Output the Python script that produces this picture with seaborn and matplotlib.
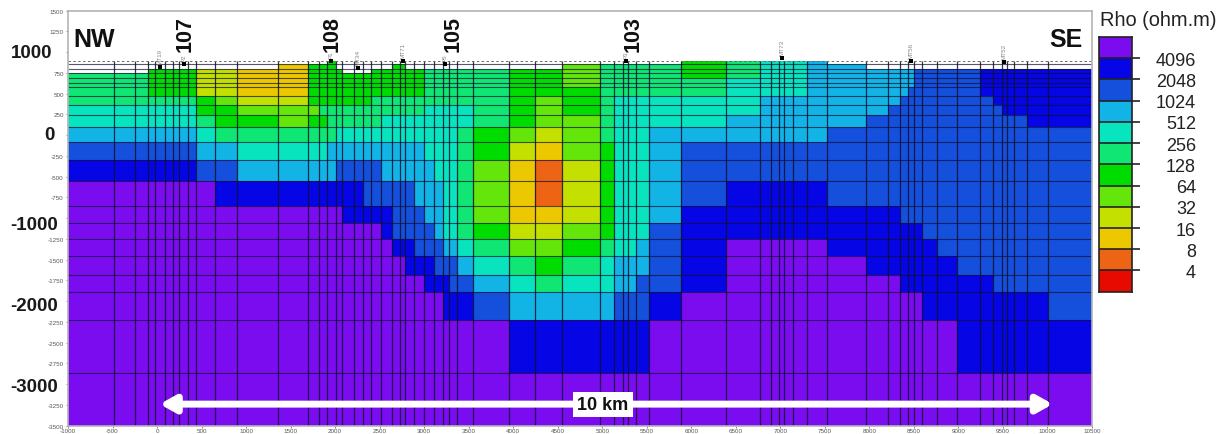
import numpy as np
import pandas as pd
import matplotlib as mpl
import matplotlib.pyplot as plt
import seaborn as sb
from matplotlib.colors import ListedColormap

mpl.use('agg')

# mesh column edges, metres along the profile
x_edges = [-1000, -480, -247, -104, -19, 86, 176, 250, 352, 435, 651, 902, 1362, 1692,
           1823, 1906, 2007, 2081, 2216, 2317, 2403, 2516, 2643, 2729, 2785, 2890, 2999,
           3114, 3209, 3279, 3366, 3552, 3957, 4245, 4545, 4975, 5136, 5237, 5293, 5380,
           5529, 5885, 6390, 6772, 6892, 6989, 7045, 7146, 7303, 7521, 7959, 8206, 8344,
           8438, 8505, 8588, 8757, 8988, 9243, 9386, 9493, 9543, 9628, 9767, 10010, 10500]

# mesh row edges, metres elevation, top down
z_edges = [895, 855, 799, 747, 687, 630, 575, 473, 365, 245, 100, -81, -293, -551, -855,
           -1060, -1245, -1455, -1690, -1895, -2225, -2871, -3500]

# resistivity class per row as (class, until x), 0 is air, 12 is above 4096 ohm.m
rows = [
    [(0, 1906), (6, 2007), (0, 5885), (6, 6390), (7, 6772), (8, 7303), (9, 7521), (0, 10500)],
    [(0, 1362), (3, 1692), (6, 2007), (0, 2643), (6, 2785), (0, 4545), (5, 4975), (7, 5885),
     (6, 6390), (7, 6772), (8, 7303), (9, 7959), (0, 10500)],
    [(0, -104), (6, 435), (4, 902), (3, 1692), (6, 2081), (0, 2403), (6, 2999), (7, 3957),
     (6, 4545), (5, 4975), (7, 5885), (6, 6390), (7, 6772), (8, 7303), (9, 8505), (10, 9243),
     (11, 10500)],
    [(7, -104), (6, 435), (4, 902), (3, 1692), (6, 2999), (7, 3957), (6, 4545), (5, 4975),
     (7, 5885), (6, 6390), (7, 6772), (8, 7303), (9, 8505), (10, 9243), (11, 10500)],
    [(7, -104), (6, 435), (4, 902), (3, 1692), (6, 2999), (7, 3957), (6, 4545), (5, 4975),
     (7, 6390), (8, 7303), (9, 8505), (10, 9243), (11, 10500)],
    [(7, -104), (6, 435), (4, 902), (3, 1692), (6, 2999), (7, 3957), (6, 4545), (5, 4975),
     (7, 6390), (8, 7303), (9, 8505), (10, 9243), (11, 10500)],
    [(7, -104), (6, 435), (4, 902), (3, 1692), (6, 2999), (7, 3957), (6, 4975), (7, 6390),
     (8, 7303), (9, 8438), (10, 9243), (11, 10500)],
    [(7, 435), (6, 651), (5, 902), (4, 1692), (6, 2403), (7, 3957), (6, 4245), (5, 4545),
     (6, 4975), (7, 5136), (8, 6772), (9, 8344), (10, 9386), (11, 10500)],
    [(8, 435), (6, 902), (5, 1823), (7, 2999), (8, 3552), (7, 3957), (6, 4245), (5, 4545),
     (6, 4975), (7, 5136), (8, 6772), (9, 8206), (10, 9493), (11, 10500)],
    [(8, 435), (7, 651), (6, 1362), (5, 1692), (6, 1906), (7, 2516), (8, 3552), (7, 3957),
     (6, 4245), (5, 4975), (7, 5136), (8, 6390), (9, 7959), (10, 9767), (11, 10500)],
    [(9, 435), (8, 651), (7, 2007), (8, 3366), (7, 3552), (6, 3957), (5, 4245), (4, 4545),
     (5, 4975), (7, 5136), (8, 5529), (9, 7521), (10, 10500)],
    [(10, 435), (9, 902), (8, 1906), (9, 2999), (8, 3366), (7, 3552), (6, 3957), (4, 4245),
     (3, 4545), (5, 4975), (6, 5136), (8, 5529), (9, 5885), (10, 10500)],
    [(11, 435), (10, 902), (9, 2007), (10, 2516), (9, 3114), (8, 3366), (7, 3552), (5, 3957),
     (3, 4245), (2, 4545), (4, 4975), (6, 5136), (8, 5529), (9, 5885), (10, 10500)],
    [(12, 651), (11, 2317), (10, 2890), (9, 3209), (8, 3366), (7, 3552), (5, 3957), (3, 4245),
     (2, 4545), (4, 4975), (6, 5136), (8, 5529), (9, 5885), (10, 6390), (11, 7521), (10, 10500)],
    [(12, 2081), (11, 2643), (10, 2999), (9, 3209), (8, 3366), (7, 3552), (5, 3957), (3, 4545),
     (4, 4975), (6, 5136), (8, 5529), (9, 5885), (11, 8344), (10, 10500)],
    [(12, 2516), (11, 2643), (10, 3114), (9, 3209), (8, 3366), (7, 3552), (6, 3957), (4, 4545),
     (5, 4975), (6, 5136), (8, 5529), (10, 5885), (11, 8588), (10, 10500)],
    [(12, 2643), (11, 2890), (10, 3209), (9, 3366), (8, 3552), (7, 3957), (5, 4545), (6, 4975),
     (7, 5136), (8, 5380), (9, 5529), (10, 5885), (11, 6390), (12, 7521), (11, 8757), (10, 10500)],
    [(12, 2785), (11, 3114), (10, 3366), (9, 3552), (8, 3957), (7, 4245), (6, 4545), (7, 4975),
     (8, 5136), (9, 5529), (10, 5885), (11, 6390), (12, 7959), (11, 8988), (10, 10500)],
    [(12, 2999), (11, 3279), (10, 3552), (9, 3957), (8, 4245), (7, 4545), (8, 5136), (9, 5380),
     (10, 5885), (11, 6390), (12, 8344), (11, 9386), (10, 10500)],
    [(12, 3209), (11, 3552), (10, 3957), (9, 5136), (10, 5529), (11, 5885), (12, 8588),
     (11, 10010), (10, 10500)],
    [(12, 3957), (11, 5529), (12, 8988), (11, 10500)],
    [(12, 10500)],
]

# colour scale, top swatch first
scale_colours = ['#7B0CF0', '#0505E6', '#1450DC', '#12B4E6', '#08E4BE', '#10E673',
                 '#00DC00', '#64E60A', '#C4E000', '#ECC800', '#EC6414', '#E60A00']
scale_labels = ['4096', '2048', '1024', '512', '256', '128', '64', '32', '16', '8', '4']

# stations on the surface
station_x = [34, 307, 1954, 2261, 2763, 3235, 5263, 7016, 8465, 9512]
station_z = [819, 855, 890, 813, 895, 855, 890, 927, 890, 880]
station_names = ['MT19', 'P2', 'P1', 'MT34', 'MT71', 'P5', 'P3', 'MT73', 'MT56', 'MT52']

# site numbers written above the profile
site_names = ['107', '108', '105', '103']
site_x = [320, 1970, 3330, 5350]

x_ticks = list(range(-1000, 10501, 500))
z_ticks = list(range(-3500, 1501, 250))
big_z_labels = ['1000', '0', '-1000', '-2000', '-3000']
big_z_pos = [1000, 12, -1070, -2055, -3030]
big_z_right = [-1179, -1146, -1112, -1112, -1112]

FIG_W, FIG_H = 1224, 435


def expand_rows():
    recs = []
    for i, runs in enumerate(rows):
        for j in range(len(x_edges) - 1):
            mid = (x_edges[j] + x_edges[j + 1]) / 2
            cls = next(c for c, stop in runs if mid < stop)
            if cls:
                recs.append({'x': mid, 'z': (z_edges[i] + z_edges[i + 1]) / 2, 'cls': cls})
    return pd.DataFrame(recs)


def main():
    sb.set_theme(style="white")
    plt.rcParams['font.family'] = ['Liberation Sans', 'DejaVu Sans']

    fig = plt.figure(figsize=(FIG_W / 100, FIG_H / 100), dpi=100)
    ax = fig.add_axes([68 / FIG_W, 1 - 426.7 / FIG_H, 1024 / FIG_W, 415 / FIG_H])

    cmap = ListedColormap(scale_colours[::-1])
    sb.histplot(data=expand_rows(), x='x', y='z', weights='cls', bins=(x_edges, z_edges[::-1]),
                cmap=cmap, vmin=0.5, vmax=12.5, cbar=False, ax=ax)

    ax.vlines(x_edges[1:-1], -3500, 895, color='#101030', lw=0.9, alpha=0.85)
    ax.hlines(z_edges[1:-1], -1000, 10500, color='#101030', lw=0.8, alpha=0.7)
    ax.hlines(895, -1000, 10500, color='#666666', lw=0.7, ls=(0, (2.5, 2.5)))

    ax.set_xlim(-1000, 10500)
    ax.set_ylim(-3500, 1500)
    ax.set_xlabel('')
    ax.set_ylabel('')
    ax.set_xticks(x_ticks)
    ax.set_xticklabels([str(v) for v in x_ticks])
    ax.set_yticks(z_ticks)
    ax.set_yticklabels(['' if str(v) in big_z_labels else str(v) for v in z_ticks])
    ax.tick_params(axis='both', labelsize=4.5, colors='#555555', length=1.5, width=0.5, pad=0.5,
                   left=True, bottom=True)
    ax.tick_params(axis='y', pad=1.5)
    for s in ax.spines.values():
        s.set_color('#b4b4b4')
        s.set_linewidth(1.2)

    # stations
    sb.scatterplot(x=station_x, y=station_z, marker='s', s=5, color='black', linewidth=0,
                   ax=ax, zorder=4)
    for name, x, z in zip(station_names, station_x, station_z):
        ax.text(x, z + 35, name, rotation=90, fontsize=4.5, color='#888888', ha='center', va='bottom')

    for name, x in zip(site_names, site_x):
        ax.text(x, 1015, name, rotation=90, fontsize=15.5, fontweight='bold', color='#111111',
                ha='center', va='bottom')

    ax.text(-935, 1165, 'NW', fontsize=18, fontweight='bold', color='#111111', va='center')
    ax.text(10390, 1165, 'SE', fontsize=18, fontweight='bold', color='#111111', va='center', ha='right')

    for label, z, right in zip(big_z_labels, big_z_pos, big_z_right):
        ax.text(right, z, label, fontsize=13.5, fontweight='bold', color='#1a1a1a', ha='right', va='center')

    # 10 km scale arrow
    ax.annotate('', xy=(30, -3240), xytext=(10060, -3240),
                arrowprops=dict(arrowstyle='<|-|>,head_length=0.75,head_width=0.42', color='white',
                                lw=5, shrinkA=0, shrinkB=0))
    ax.text(5009, -3247, '10 km', fontsize=13, fontweight='bold', color='#111111', ha='center',
            va='center', bbox=dict(facecolor='white', edgecolor='none', pad=2.8), zorder=6)

    # colour scale
    cax = fig.add_axes([1099 / FIG_W, 1 - 292.7 / FIG_H, 33 / FIG_W, 254.7 / FIG_H])
    swatches = np.arange(12, 0, -1).reshape(-1, 1)
    sb.heatmap(swatches, cmap=cmap, vmin=0.5, vmax=12.5, cbar=False, ax=cax,
               xticklabels=False, linewidths=0)
    cax.yaxis.tick_right()
    cax.set_yticks(np.arange(1, 12))
    cax.set_yticklabels(scale_labels, rotation=0, ha='right')
    cax.tick_params(axis='y', right=True, left=False, length=6, width=1.2, color='#222222',
                    labelsize=13, labelcolor='#222222', pad=40)
    cax.hlines(np.arange(1, 12), 0, 1, color='#222222', lw=1.2)
    for s in cax.spines.values():
        s.set_visible(True)
        s.set_color('#222222')
        s.set_linewidth(1.2)
    fig.text(1100 / FIG_W, 1 - 20.7 / FIG_H, 'Rho (ohm.m)', fontsize=14.4, color='#222222', va='center')

    fig.savefig('out.png', dpi=100)


if __name__ == "__main__":
    main()
